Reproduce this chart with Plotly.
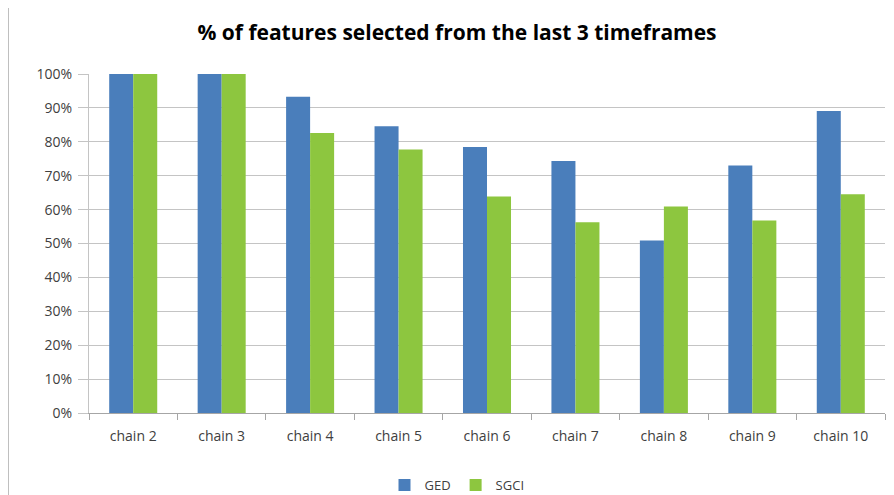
import plotly.graph_objects as go

categories = ["chain 2", "chain 3", "chain 4", "chain 5", "chain 6", "chain 7", "chain 8", "chain 9", "chain 10"]
ged = [1.00, 1.00, 0.933, 0.846, 0.785, 0.743, 0.509, 0.730, 0.891]
sgci = [1.00, 1.00, 0.826, 0.777, 0.639, 0.563, 0.609, 0.568, 0.645]
y_ticks = [i / 10 for i in range(11)]
y_labels = [f"{i*10}%" for i in range(11)]

W, H = 886, 487
L, R, T, B = 81, 9, 66, 82
pw = W - L - R
ph = H - T - B

fig = go.Figure()
fig.add_trace(go.Bar(name="GED", x=categories, y=ged, marker_color="#4A7EBB", marker_line_width=0))
fig.add_trace(go.Bar(name="SGCI", x=categories, y=sgci, marker_color="#8DC63F", marker_line_width=0))

fig.update_layout(
    width=W, height=H,
    margin=dict(l=L, r=R, t=T, b=B, autoexpand=False),
    paper_bgcolor="white", plot_bgcolor="white",
    barmode="group", bargap=0.457, bargroupgap=0,
    font=dict(family="Open Sans", size=14, color="#404040"),
    title=dict(text="<b>% of features selected from the last 3 timeframes</b>",
               x=449 / W, xanchor="center", y=1 - 25 / H, yanchor="middle",
               font=dict(family="Open Sans", size=21, color="#000000")),
    legend=dict(orientation="h", x=(449 - L) / pw, xanchor="center", y=-(477 - (T + ph)) / ph,
                yanchor="middle", font=dict(size=13, color="#404040"), itemwidth=30,
                traceorder="normal"),
    xaxis=dict(showline=True, linecolor="#A6A6A6", linewidth=1, ticks="outside",
               tickson="boundaries", ticklen=6, tickcolor="#A6A6A6", ticklabelstandoff=10,
               tickfont=dict(size=14, color="#404040")),
    yaxis=dict(range=[0, 1], tickvals=y_ticks, ticktext=y_labels, showgrid=True,
               gridcolor="#C4C4C4", gridwidth=1, showline=True, linecolor="#C4C4C4",
               ticks="outside", ticklen=10, tickcolor="#C4C4C4", zeroline=False,
               ticklabelstandoff=3, tickfont=dict(size=14, color="#404040")),
    shapes=[dict(type="line", xref="paper", yref="paper", x0=-L / pw, x1=-L / pw, y0=-1, y1=2,
                 line=dict(color="#808080", width=1))],
)
fig.update_xaxes(automargin=False)
fig.update_yaxes(automargin=False)
fig.write_html("out.html")
